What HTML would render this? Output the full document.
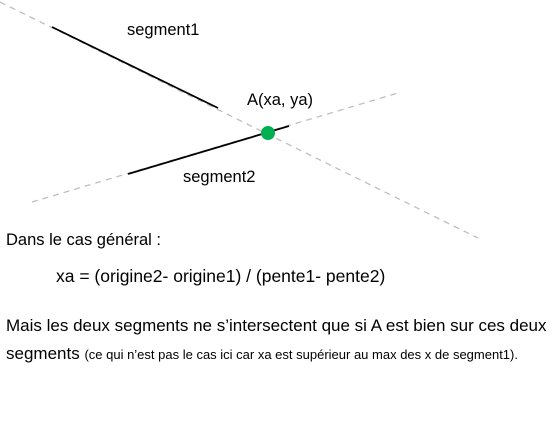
<!DOCTYPE html>
<html><head><meta charset="utf-8"><style>
body{margin:0;background:#fff;width:553px;height:441px;overflow:hidden;font-family:"Liberation Sans",sans-serif;}
svg{position:absolute;left:0;top:0}
.t{position:absolute;white-space:nowrap;color:#000}
</style></head><body>
<svg width="553" height="441">
<g id="g"></g>
</svg>
<div class="t" style="left:127px;top:21px;font-size:16.5px">segment1</div>
<div class="t" style="left:247px;top:91px;font-size:16.5px">A(xa, ya)</div>
<div class="t" style="left:183px;top:168px;font-size:16.5px">segment2</div>
<div class="t" style="left:6px;top:231px;font-size:16.5px">Dans le cas général :</div>
<div class="t" style="left:56px;top:266px;font-size:17.5px">xa = (origine2- origine1) / (pente1- pente2)</div>
<div class="t" style="left:6px;top:316px;font-size:17px">Mais les deux segments ne s’intersectent que si A est bien sur ces deux</div>
<div class="t" style="left:6px;top:344px;font-size:17px">segments <span style="font-size:13px">(ce qui n’est pas le cas ici car xa est supérieur au max des x de segment1).</span></div>
<script>
const dashedLines=[[0,2,478,238],[32,202,398,93]];
const segments=[[52,27,218,108],[128,174,289,126]];
const pointA=[268,133];
const g=document.getElementById('g');
const NS='http://www.w3.org/2000/svg';
dashedLines.forEach((d,i)=>{const l=document.createElementNS(NS,'line');
l.setAttribute('x1',d[0]);l.setAttribute('y1',d[1]);l.setAttribute('x2',d[2]);l.setAttribute('y2',d[3]);
l.setAttribute('stroke','#bfbfbf');l.setAttribute('stroke-width','1.3');l.setAttribute('stroke-dasharray','6 5');


g.appendChild(l);});
segments.forEach((d,i)=>{const l=document.createElementNS(NS,'line');
l.setAttribute('x1',d[0]);l.setAttribute('y1',d[1]);l.setAttribute('x2',d[2]);l.setAttribute('y2',d[3]);
l.setAttribute('stroke','#000');l.setAttribute('stroke-width','1.8');


g.appendChild(l);});
const c=document.createElementNS(NS,'circle');
c.setAttribute('cx',pointA[0]);c.setAttribute('cy',pointA[1]);c.setAttribute('r','7');c.setAttribute('fill','#00b050');


g.appendChild(c);
</script>
</body></html>
